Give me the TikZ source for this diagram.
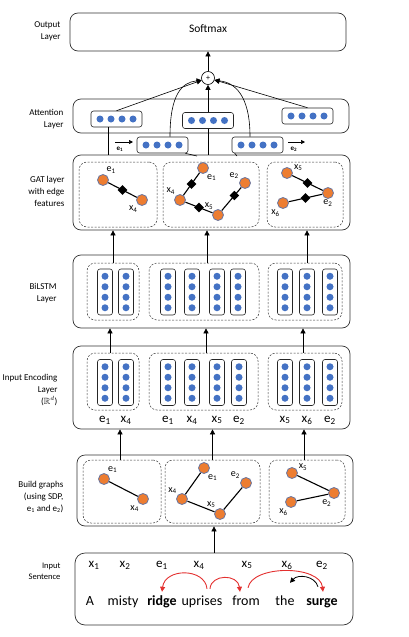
\documentclass[tikz,border=0pt]{standalone}
\usepackage{amssymb}
\usepackage{fontspec}
\setmainfont{Carlito}
\usetikzlibrary{shapes.geometric,arrows.meta,fit,calc}

\definecolor{dotblue}{HTML}{4472C4}
\definecolor{nodeorange}{HTML}{ED7D31}
\definecolor{nodering}{HTML}{6A76A0}
\definecolor{arcred}{HTML}{E3302F}

\newcommand\ix[2]{#1\textsubscript{#2}}
% a row vector (attention) and a column vector (encoding, BiLSTM)
\newcommand\hvec[3]{%
  \node[vecbox,minimum width=51pt,minimum height=16pt] (#1) at (#2,#3) {};
  \foreach \k in {1,...,4}
    \node[dot] (#1d\k) at ($(#1)+(11*\k-27.5,0)$) {};}
\newcommand\vvec[3]{%
  \node[vecbox,minimum width=15pt,minimum height=46pt] (#1) at (#2,#3) {};
  \foreach \k in {1,...,4}
    \node[dot] (#1d\k) at ($(#1)+(0,10.5*\k-26.25)$) {};}

\tikzset{
  layerbox/.style={draw=black!80,line width=0.7pt,rounded corners=8pt,inner sep=0pt},
  groupbox/.style={draw=black!80,line width=0.5pt,dash pattern=on 2pt off 1.5pt,rounded corners=8pt,inner sep=0pt},
  vecbox/.style={draw=black!85,line width=0.6pt,rounded corners=2.5pt,fill=white,inner sep=0pt},
  dot/.style={circle,fill=dotblue,inner sep=0pt,minimum size=7pt},
  gnode/.style={circle,fill=nodeorange,draw=nodering,line width=0.8pt,inner sep=0pt,minimum size=11pt},
  edgefeat/.style={diamond,fill=black,inner sep=0pt,minimum size=10pt},
  gedge/.style={line width=1.1pt},
  glabel/.style={font=\fontsize{10}{12}\selectfont,inner sep=1pt},
  sidelabel/.style={align=right,anchor=east,font=\fontsize{9}{12}\selectfont},
  toklabel/.style={font=\fontsize{13}{15}\selectfont,inner sep=0pt},
  word/.style={font=\fontsize{14}{16}\selectfont,anchor=base,inner sep=1pt,text height=10pt,text depth=3pt},
  tag/.style={font=\fontsize{7}{8}\selectfont\bfseries,inner sep=0pt},
  uparrow/.style={-{Triangle[length=5pt,width=5pt]},line width=0.6pt},
  redarc/.style={-{Triangle[length=5pt,width=5pt]},draw=arcred,line width=0.9pt},
}

\begin{document}
\begin{tikzpicture}[x=1pt,y=-1pt]
\useasboundingbox (0,0) rectangle (408,637);

% output layer
\node[layerbox,fit={(70,13) (346,51)}] (out) {};
\node[font=\fontsize{11.5}{13}\selectfont] (softmax) at (208,29) {Softmax};
\node[sidelabel] (outlab) at (64,31) {Output\\Layer};
\node[circle,draw,line width=0.6pt,minimum size=13pt,inner sep=0pt,font=\fontsize{8}{8}\selectfont] (plus) at (208,78) {+};
\draw[uparrow] (plus) -- (plus |- out.south);

% attention layer
\node[layerbox,fit={(73,99) (349,133)}] (att) {};
\node[sidelabel] (attlab) at (67,119) {Attention\\Layer};
\hvec{attL}{116.5}{119}
\hvec{attM}{208}{120.5}
\hvec{attR}{307.5}{116}
\hvec{attE1}{162.5}{145}
\hvec{attE2}{257.5}{145}
\coordinate (e1tail) at (115,142);
\coordinate (e1head) at (133,142);
\coordinate (e2tail) at (288,142);
\coordinate (e2head) at (305,142);
\draw[-{Triangle[length=4pt,width=4pt]},line width=0.7pt] (e1tail) -- (e1head);
\draw[-{Triangle[length=4pt,width=4pt]},line width=0.7pt] (e2tail) -- (e2head);
\node[tag] (e1tag) at (120,149) {e\textsubscript{1}};
\node[tag] (e2tag) at (294,149) {e\textsubscript{2}};
\draw[uparrow] (attL.north) -- (plus);
\draw[uparrow] (attR.north) -- (plus);
\draw[uparrow] (attM.north) -- (plus);
\draw[uparrow] ([xshift=7.5pt]attE1.north) .. controls +(0,-42) and +(-20,2) .. (plus.200);
\draw[uparrow] ([xshift=-7.5pt]attE2.north) .. controls +(0,-42) and +(20,2) .. (plus.340);

% GAT layer
\node[layerbox,fit={(73,155) (350,230)}] (gat) {};
\node[sidelabel] (gatlab) at (68,191) {GAT layer\\with edge\\features};
\node[groupbox,fit={(79,162) (157,227)}] (gatL) {};
\node[groupbox,fit={(163,162) (259,227)}] (gatM) {};
\node[groupbox,fit={(267,162) (343,227)}] (gatR) {};
\coordinate (jointL) at (197,156);
\coordinate (jointR) at (237,156);
\draw[line width=0.6pt] ([xshift=-3pt]attE1.south east) -- (jointL);
\draw[line width=0.6pt] ([xshift=3pt]attE2.south west) -- (jointR);
\draw[line width=0.6pt] (attM.south) -- (attM.south |- gat.north);
\draw[line width=0.6pt] ([xshift=-8.5pt]attL.south) -- ([xshift=-8.5pt]attL.south |- gat.north);

\node[gnode,label={[glabel]65:\ix{e}{1}}] (gLe1) at (103,180) {};
\node[gnode,label={[glabel]236:\ix{x}{4}}] (gLx4) at (142,200) {};
\node[gnode,label={[glabel]300:\ix{e}{1}}] (gMe1) at (203,168) {};
\node[gnode,label={[glabel]130:\ix{x}{4}}] (gMx4) at (180,200) {};
\node[gnode,label={[glabel]127:\ix{x}{5}}] (gMx5) at (218,215) {};
\node[gnode,label={[glabel]150:\ix{e}{2}}] (gMe2) at (245,183) {};
\node[gnode,label={[glabel]10:\ix{x}{5}}] (gRx5) at (287,173) {};
\node[gnode,label={[glabel]250:\ix{x}{6}}] (gRx6) at (283,203) {};
\node[gnode,label={[glabel]270:\ix{e}{2}}] (gRe2) at (328,193) {};
\draw[gedge] (gLe1) -- node[edgefeat] (fL1) {} (gLx4);
\draw[gedge] (gMe1) -- node[edgefeat] (fM1) {} (gMx4);
\draw[gedge] (gMx4) -- node[edgefeat] (fM2) {} (gMx5);
\draw[gedge] (gMx5) -- node[edgefeat,pos=0.65] (fM3) {} (gMe2);
\draw[gedge] (gRx5) -- node[edgefeat] (fR1) {} (gRe2);
\draw[gedge] (gRx6) -- node[edgefeat] (fR2) {} (gRe2);

% BiLSTM layer
\node[layerbox,fit={(73,255) (350,328)}] (lstm) {};
\node[sidelabel] (lstmlab) at (60,293) {BiLSTM\\Layer};
\node[groupbox,fit={(87,263) (139,320)}] (lstmL) {};
\node[groupbox,fit={(149,263) (259,320)}] (lstmM) {};
\node[groupbox,fit={(268,263) (342,320)}] (lstmR) {};
\foreach \n/\x in {L1/105,L2/126,M1/168,M2/192,M3/217,M4/238,R1/285,R2/307,R3/330}
  {\vvec{lstm\n}{\x}{292}}
\foreach \g/\s in {L/0,M/3,R/2}
  \draw[uparrow] ([xshift=\s pt]lstm\g.north) -- ([xshift=\s pt]lstm\g.north |- gat.south);

% input encoding layer
\node[layerbox,fit={(73,346) (350,429)}] (enc) {};
\node[sidelabel] (enclab) at (61,390) {Input Encoding\\Layer\\($\mathbb{R}^d$)};
\node[groupbox,fit={(87,353) (139,410)}] (encL) {};
\node[groupbox,fit={(149,353) (258,410)}] (encM) {};
\node[groupbox,fit={(268,353) (342,410)}] (encR) {};
\foreach \n/\x/\t in {L1/105/{\ix{e}{1}},L2/126/{\ix{x}{4}},M1/168/{\ix{e}{1}},M2/192/{\ix{x}{4}},
    M3/217/{\ix{x}{5}},M4/239/{\ix{e}{2}},R1/285/{\ix{x}{5}},R2/307/{\ix{x}{6}},R3/330/{\ix{e}{2}}}
  {\vvec{enc\n}{\x}{382.5}
   \node[toklabel] (enc\n t) at (\x,420) {\t};}
\foreach \g/\s in {L/-3,M/2.5,R/-2}
  \draw[uparrow] ([xshift=\s pt]enc\g.north) -- ([xshift=\s pt]enc\g.north |- lstm.south);

% build graphs
\node[layerbox,fit={(77,455) (353,526)}] (build) {};
\node[sidelabel] (buildlab) at (67,497) {Build graphs\\(using SDP,\\e\textsubscript{1} and e\textsubscript{2})};
\node[groupbox,fit={(83,460) (161,523)}] (bgL) {};
\node[groupbox,fit={(165,460) (260,523)}] (bgM) {};
\node[groupbox,fit={(269,460) (345,523)}] (bgR) {};
\node[gnode,label={[glabel]60:\ix{e}{1}}] (bLe1) at (104,479) {};
\node[gnode,label={[glabel]240:\ix{x}{4}}] (bLx4) at (143,499) {};
\node[gnode,label={[glabel]300:\ix{e}{1}}] (bMe1) at (204,468) {};
\node[gnode,label={[glabel]135:\ix{x}{4}}] (bMx4) at (182,499) {};
\node[gnode,label={[glabel]125:\ix{x}{5}}] (bMx5) at (220,514) {};
\node[gnode,label={[glabel]145:\ix{e}{2}}] (bMe2) at (246,483) {};
\node[gnode,label={[glabel]15:\ix{x}{5}}] (bRx5) at (292,473) {};
\node[gnode,label={[glabel]250:\ix{x}{6}}] (bRx6) at (291,502) {};
\node[gnode,label={[glabel]255:\ix{e}{2}}] (bRe2) at (334,493) {};
\draw[gedge] (bLe1) -- (bLx4);
\draw[gedge] (bMe1) -- (bMx4) -- (bMx5) -- (bMe2);
\draw[gedge] (bRx5) -- (bRe2) -- (bRx6);
\foreach \g/\s in {L/-2,M/0,R/-3}
  \draw[uparrow] ([xshift=\s pt]bg\g.north) -- ([xshift=\s pt]bg\g.north |- enc.south);

% input sentence
\node[layerbox,rounded corners=10pt,fit={(75,553) (353,625)}] (sent) {};
\node[sidelabel,font=\fontsize{8.5}{11}\selectfont] (sentlab) at (64,571) {Input\\Sentence};
\draw[uparrow] (sent.north) -- (sent.north |- build.south);
\foreach \n/\x/\t in {1/94/{\ix{x}{1}},2/125/{\ix{x}{2}},3/162/{\ix{e}{1}},4/199/{\ix{x}{4}},
    5/247/{\ix{x}{5}},6/287/{\ix{x}{6}},7/322/{\ix{e}{2}}}
  \node[toklabel] (tok\n) at (\x,565) {\t};
\foreach \n/\x/\w in {1/90/A,2/123/misty,3/162/{\textbf{ridge}},4/202/uprises,
    5/246/from,6/285/the,7/322/{\textbf{surge}}}
  \node[word] (w\n) at (\x,605) {\w};
\draw[redarc] ([xshift=5pt,yshift=5pt]w4.north) .. controls +(-2,-21) and +(3,-24) .. ([yshift=2pt]w3.north);
\draw[redarc] ([xshift=8pt,yshift=5pt]w4.north) .. controls +(1,-15) and +(-2,-18) .. ([xshift=-6pt,yshift=2pt]w5.north);
\draw[redarc] ([xshift=2pt,yshift=6pt]w5.north) .. controls +(4,-23) and +(-3,-27) .. ([xshift=1pt,yshift=2pt]w7.north);
\draw[-{Triangle[length=5pt,width=5pt]},line width=0.8pt] ([xshift=-4pt,yshift=7pt]w7.north) .. controls +(-3,-11) and +(8,-9) .. ([xshift=5pt,yshift=11pt]w6.north);
\end{tikzpicture}
\end{document}
